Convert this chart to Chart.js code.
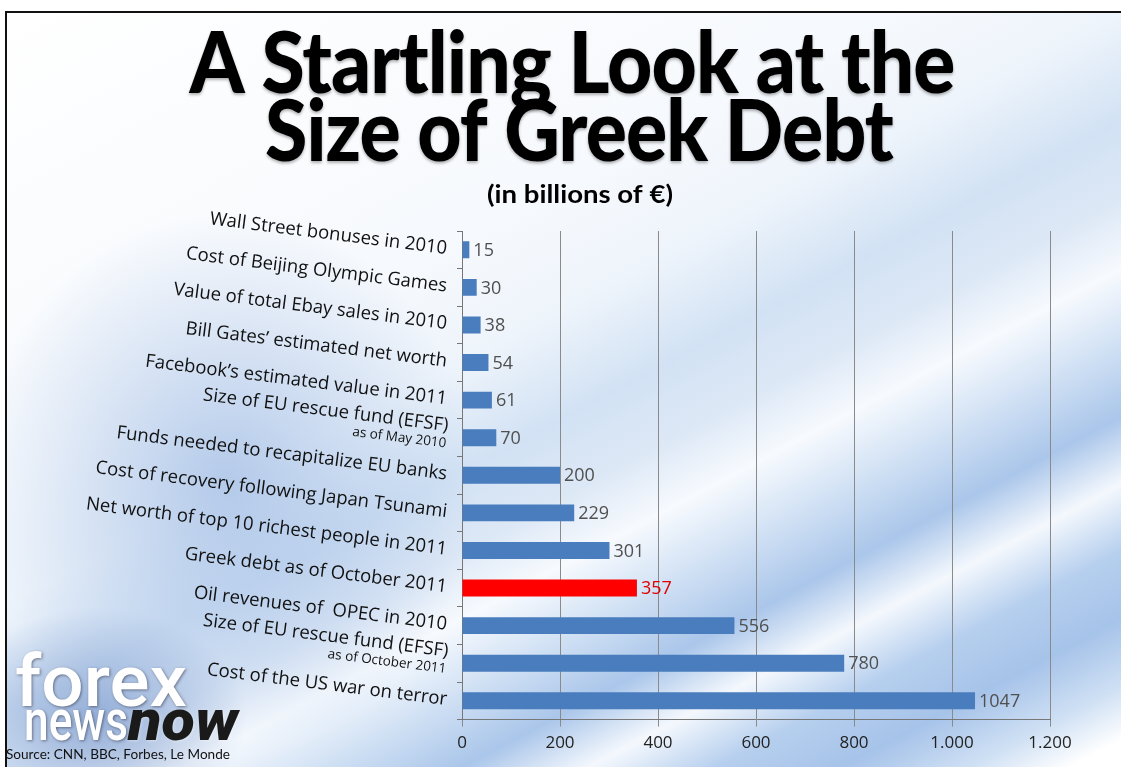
<!DOCTYPE html>
<html>
<head>
<meta charset="utf-8">
<script src="https://cdn.jsdelivr.net/npm/chart.js@4"></script>
<style>
  html, body { margin: 0; padding: 0; background: #fff; }
  #wrap {
    position: absolute; left: 0; top: 0; width: 1121px; height: 767px; overflow: hidden;
    background: #fff;
  }
  #bg {
    position: absolute; left: 5px; top: 11px; right: 0; bottom: 0;
    border-top: 2px solid #111; border-left: 2px solid #111;
    background:
      radial-gradient(ellipse 150px 110px at 90px 705px, rgba(125,155,205,0.75), rgba(125,155,205,0) 100%),
      radial-gradient(ellipse 250px 270px at 220px 470px, rgba(160,188,228,0.75), rgba(160,188,228,0) 100%),
      linear-gradient(152deg, #ffffff 0%, #f6f9fd 35%, #eef4fb 44%, #d2e2f4 52%, #dde8f6 58%, #f7fafe 63%, #d4e3f5 68%, #aac6ea 74%, #f4f8fd 79%, #b6cfee 84%, #a6c3e9 89%, #cfe0f4 94%, #ffffff 98%);
  }
  #box { position: absolute; left: 0; top: 0; width: 1121px; height: 767px; }
</style>
</head>
<body>
<div id="wrap">
  <div id="bg"></div>
  <div id="box"><canvas id="canvas"></canvas></div>
</div>
<script>
const labels = [
  "Wall Street bonuses in 2010",
  "Cost of Beijing Olympic Games",
  "Value of total Ebay sales in 2010",
  "Bill Gates’ estimated net worth",
  "Facebook’s estimated value in 2011",
  "Size of EU rescue fund (EFSF)",
  "Funds needed to recapitalize EU banks",
  "Cost of recovery following Japan Tsunami",
  "Net worth of top 10 richest people in 2011",
  "Greek debt as of October 2011",
  "Oil revenues of  OPEC in 2010",
  "Size of EU rescue fund (EFSF)",
  "Cost of the US war on terror"
];
const notes = ["", "", "", "", "", "as of May 2010", "", "", "", "", "", "as of October 2011", ""];
const values = [15, 30, 38, 54, 61, 70, 200, 229, 301, 357, 556, 780, 1047];
const highlight = "Greek debt as of October 2011";
const tickLabels = ["0", "200", "400", "600", "800", "1.000", "1.200"];

const titleLines = ["A Startling Look at the", "Size of Greek Debt"];
const subtitle = "(in billions of €)";
const source = "Source: CNN, BBC, Forbes, Le Monde";

const BLUE = "#4a7dbd";
const RED = "#ff0000";
const barColors = labels.map(l => (l === highlight ? RED : BLUE));

// draw text squeezed to a given width (condensed look)
function fitText(ctx, text, x, y, width) {
  const w = ctx.measureText(text).width;
  ctx.save();
  ctx.translate(x, y);
  ctx.scale(width / w, 1);
  ctx.fillText(text, 0, 0);
  ctx.restore();
}

const decorations = {
  id: "decorations",
  afterDraw(chart) {
    const ctx = chart.ctx;
    const yScale = chart.scales.y;

    // title
    ctx.save();
    ctx.fillStyle = "#000";
    ctx.textAlign = "center";
    ctx.textBaseline = "alphabetic";
    ctx.shadowColor = "rgba(0,0,0,0.3)";
    ctx.shadowBlur = 3;
    ctx.shadowOffsetY = 2;
    ctx.letterSpacing = "-1px";
    ctx.font = "900 86px Lato";
    fitText(ctx, titleLines[0], 572, 93, 765);
    fitText(ctx, titleLines[1], 579, 161, 628);
    ctx.shadowColor = "transparent";
    ctx.letterSpacing = "0px";
    ctx.font = "700 25px Lato";
    fitText(ctx, subtitle, 580, 203, 186);
    ctx.restore();

    // rotated category labels
    ctx.save();
    ctx.fillStyle = "#111";
    labels.forEach((label, i) => {
      const y = yScale.getPixelForValue(i);
      ctx.save();
      ctx.translate(yScale.right - 15, y - 1);
      ctx.rotate(0.125);
      ctx.textAlign = "right";
      ctx.textBaseline = "middle";
      ctx.font = "500 18.5px 'Open Sans'";
      if (notes[i]) {
        ctx.fillText(label, 0, -11);
        ctx.font = "500 13.5px 'Open Sans'";
        ctx.fillText(notes[i], 0, 7);
      } else {
        ctx.fillText(label, 0, 0);
      }
      ctx.restore();
    });
    ctx.restore();

    // logo + source
    ctx.save();
    ctx.textAlign = "left";
    ctx.textBaseline = "alphabetic";
    ctx.shadowColor = "rgba(40,40,60,0.55)";
    ctx.shadowBlur = 3;
    ctx.shadowOffsetX = 1;
    ctx.shadowOffsetY = 1;
    ctx.fillStyle = "#fff";
    ctx.font = "500 72px Roboto";
    fitText(ctx, "forex", 15, 706, 172);
    ctx.font = "500 57px Roboto";
    fitText(ctx, "news", 24, 740, 104);
    ctx.fillStyle = "#1a1a1a";
    ctx.shadowColor = "rgba(255,255,255,0.4)";
    ctx.font = "italic 900 57px Roboto";
    fitText(ctx, "now", 128, 740, 110);
    ctx.shadowColor = "transparent";
    ctx.fillStyle = "#111";
    ctx.font = "14px Lato";
    fitText(ctx, source, 6, 759, 224);
    ctx.restore();
  },
  afterDatasetsDraw(chart) {
    const ctx = chart.ctx;
    const meta = chart.getDatasetMeta(0);
    ctx.save();
    ctx.textAlign = "left";
    ctx.textBaseline = "middle";
    ctx.font = "18px 'Open Sans'";
    meta.data.forEach((bar, i) => {
      ctx.fillStyle = labels[i] === highlight ? "#e00000" : "#505050";
      ctx.fillText(String(values[i]), bar.x + 4, bar.y + 1);
    });
    ctx.restore();
  }
};

new Chart(document.getElementById("canvas"), {
  type: "bar",
  data: {
    labels: labels,
    datasets: [{
      data: values,
      backgroundColor: barColors,
      borderWidth: 0,
      barPercentage: 0.45,
      categoryPercentage: 1
    }]
  },
  options: {
    indexAxis: "y",
    responsive: true,
    maintainAspectRatio: false,
    animation: false,
    layout: { padding: { left: 457, right: 71, top: 231, bottom: 8 } },
    plugins: {
      legend: { display: false },
      tooltip: { enabled: false }
    },
    scales: {
      x: {
        min: 0,
        max: 1200,
        ticks: {
          stepSize: 200,
          color: "#222",
          font: { family: "'Open Sans'", size: 17 },
          padding: 6,
          callback: (v, i) => tickLabels[i]
        },
        grid: { color: "#8a8a8a", lineWidth: 1, tickLength: 7 },
        border: { color: "#777" }
      },
      y: {
        ticks: { display: false },
        grid: { drawOnChartArea: false, color: "#777", tickLength: 5, offset: true },
        border: { color: "#777" }
      }
    }
  },
  plugins: [decorations]
});
</script>
</body>
</html>
